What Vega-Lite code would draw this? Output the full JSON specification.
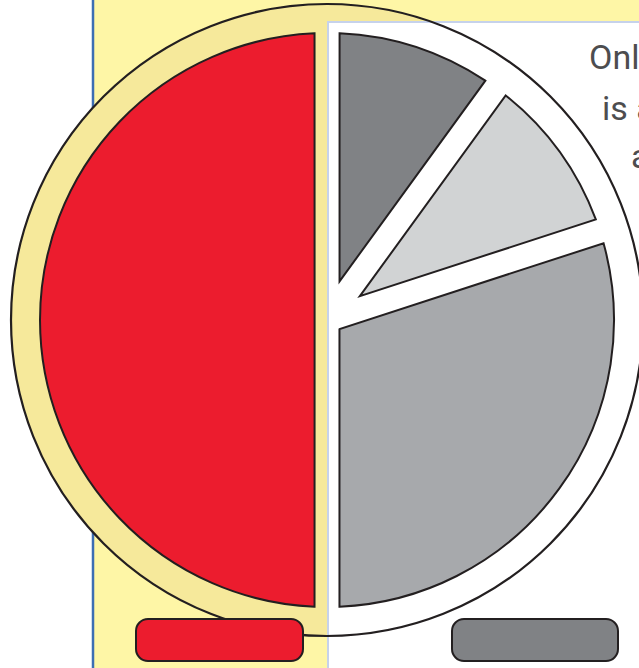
{
  "$schema": "https://vega.github.io/schema/vega-lite/v6.json",
  "width": 624,
  "height": 640,
  "autosize": {"type": "none"},
  "padding": {"left": 15, "top": 0, "right": 0, "bottom": 28},
  "background": "white",
  "config": {"view": {"stroke": null}},
  "data": {
    "values": [
      {"slice": "Dark grey", "share": 10},
      {"slice": "Light grey", "share": 10},
      {"slice": "Mid grey", "share": 30},
      {"slice": "Red", "share": 50}
    ]
  },
  "layer": [
    {
      "data": {"values": [{}]},
      "mark": {"type": "rect", "fill": "#FEF6A6"},
      "encoding": {
        "x": {"datum": 93, "type": "quantitative", "scale": {"domain": [15, 639], "nice": false, "zero": false}, "axis": null},
        "x2": {"datum": 645},
        "y": {"datum": -5, "type": "quantitative", "scale": {"domain": [0, 640], "nice": false, "zero": false, "reverse": true}, "axis": null},
        "y2": {"datum": 672}
      }
    },
    {
      "data": {"values": [{}]},
      "mark": {"type": "rule", "stroke": "#3D6EB3", "strokeWidth": 2.5},
      "encoding": {
        "x": {"datum": 93, "type": "quantitative", "scale": {"domain": [15, 639], "nice": false, "zero": false}, "axis": null},
        "y": {"datum": -5, "type": "quantitative", "scale": {"domain": [0, 640], "nice": false, "zero": false, "reverse": true}, "axis": null},
        "y2": {"datum": 672}
      }
    },
    {
      "data": {"values": [{}]},
      "mark": {"type": "arc", "radius": 316, "theta": 0, "theta2": 6.2832, "fill": "#F6E99B"},
      "encoding": {}
    },
    {
      "data": {"values": [{}]},
      "mark": {"type": "rect", "fill": "white", "stroke": "#C6D2EB", "strokeWidth": 2},
      "encoding": {
        "x": {"datum": 328, "type": "quantitative", "scale": {"domain": [15, 639], "nice": false, "zero": false}, "axis": null},
        "x2": {"datum": 650},
        "y": {"datum": 22, "type": "quantitative", "scale": {"domain": [0, 640], "nice": false, "zero": false, "reverse": true}, "axis": null},
        "y2": {"datum": 680}
      }
    },
    {
      "data": {"values": [{}]},
      "mark": {"type": "arc", "radius": 316, "theta": 0, "theta2": 6.2832, "fillOpacity": 0, "fill": "white", "stroke": "#231F20", "strokeWidth": 2.2},
      "encoding": {}
    },
    {
      "mark": {"type": "arc", "radius": 287, "radius2": 12.4, "padAngle": 0.0868, "stroke": "#231F20", "strokeWidth": 2},
      "encoding": {
        "theta": {"field": "share", "type": "quantitative", "stack": true},
        "order": {"field": "share", "sort": "ascending"},
        "color": {"field": "slice", "type": "nominal", "scale": {"domain": ["Dark grey", "Light grey", "Mid grey", "Red"], "range": ["#808285", "#D1D3D4", "#A7A9AC", "#EC1C2E"]}, "legend": null},
        "opacity": {"condition": {"test": "datum.slice === 'Red'", "value": 1}, "value": 0}
      }
    },
    {
      "mark": {"type": "arc", "radius": 287, "radius2": 15.5, "padAngle": 0.0868, "stroke": "#231F20", "strokeWidth": 2},
      "encoding": {
        "theta": {"field": "share", "type": "quantitative", "stack": true},
        "order": {"field": "share", "sort": "ascending"},
        "color": {"field": "slice", "type": "nominal", "scale": {"domain": ["Dark grey", "Light grey", "Mid grey", "Red"], "range": ["#808285", "#D1D3D4", "#A7A9AC", "#EC1C2E"]}, "legend": null},
        "opacity": {"condition": {"test": "datum.slice === 'Mid grey'", "value": 1}, "value": 0}
      }
    },
    {
      "mark": {"type": "arc", "radius": 287, "radius2": 40.6, "padAngle": 0.0868, "stroke": "#231F20", "strokeWidth": 2},
      "encoding": {
        "theta": {"field": "share", "type": "quantitative", "stack": true},
        "order": {"field": "share", "sort": "ascending"},
        "color": {"field": "slice", "type": "nominal", "scale": {"domain": ["Dark grey", "Light grey", "Mid grey", "Red"], "range": ["#808285", "#D1D3D4", "#A7A9AC", "#EC1C2E"]}, "legend": null},
        "opacity": {"condition": {"test": "datum.slice === 'Dark grey' || datum.slice === 'Light grey'", "value": 1}, "value": 0}
      }
    },
    {
      "data": {"values": [{}]},
      "mark": {"type": "rect", "fill": "#EC1C2E", "stroke": "#231F20", "strokeWidth": 2, "cornerRadius": 12},
      "encoding": {
        "x": {"datum": 136, "type": "quantitative", "scale": {"domain": [15, 639], "nice": false, "zero": false}, "axis": null},
        "x2": {"datum": 303},
        "y": {"datum": 619, "type": "quantitative", "scale": {"domain": [0, 640], "nice": false, "zero": false, "reverse": true}, "axis": null},
        "y2": {"datum": 661}
      }
    },
    {
      "data": {"values": [{}]},
      "mark": {"type": "rect", "fill": "#808285", "stroke": "#231F20", "strokeWidth": 2, "cornerRadius": 12},
      "encoding": {
        "x": {"datum": 452, "type": "quantitative", "scale": {"domain": [15, 639], "nice": false, "zero": false}, "axis": null},
        "x2": {"datum": 618},
        "y": {"datum": 619, "type": "quantitative", "scale": {"domain": [0, 640], "nice": false, "zero": false, "reverse": true}, "axis": null},
        "y2": {"datum": 661}
      }
    },
    {
      "data": {"values": [{"t": "Only"}]},
      "mark": {"type": "text", "align": "left", "baseline": "alphabetic", "font": "Roboto", "fontSize": 34, "color": "#4D4D4F"},
      "encoding": {
        "text": {"field": "t"},
        "x": {"datum": 589, "type": "quantitative", "scale": {"domain": [15, 639], "nice": false, "zero": false}, "axis": null},
        "y": {"datum": 69, "type": "quantitative", "scale": {"domain": [0, 640], "nice": false, "zero": false, "reverse": true}, "axis": null}
      }
    },
    {
      "data": {"values": [{"t": "is a"}]},
      "mark": {"type": "text", "align": "left", "baseline": "alphabetic", "font": "Roboto", "fontSize": 34, "color": "#4D4D4F"},
      "encoding": {
        "text": {"field": "t"},
        "x": {"datum": 602, "type": "quantitative", "scale": {"domain": [15, 639], "nice": false, "zero": false}, "axis": null},
        "y": {"datum": 120, "type": "quantitative", "scale": {"domain": [0, 640], "nice": false, "zero": false, "reverse": true}, "axis": null}
      }
    },
    {
      "data": {"values": [{"t": "a"}]},
      "mark": {"type": "text", "align": "left", "baseline": "alphabetic", "font": "Roboto", "fontSize": 34, "color": "#4D4D4F"},
      "encoding": {
        "text": {"field": "t"},
        "x": {"datum": 631, "type": "quantitative", "scale": {"domain": [15, 639], "nice": false, "zero": false}, "axis": null},
        "y": {"datum": 168, "type": "quantitative", "scale": {"domain": [0, 640], "nice": false, "zero": false, "reverse": true}, "axis": null}
      }
    }
  ]
}
